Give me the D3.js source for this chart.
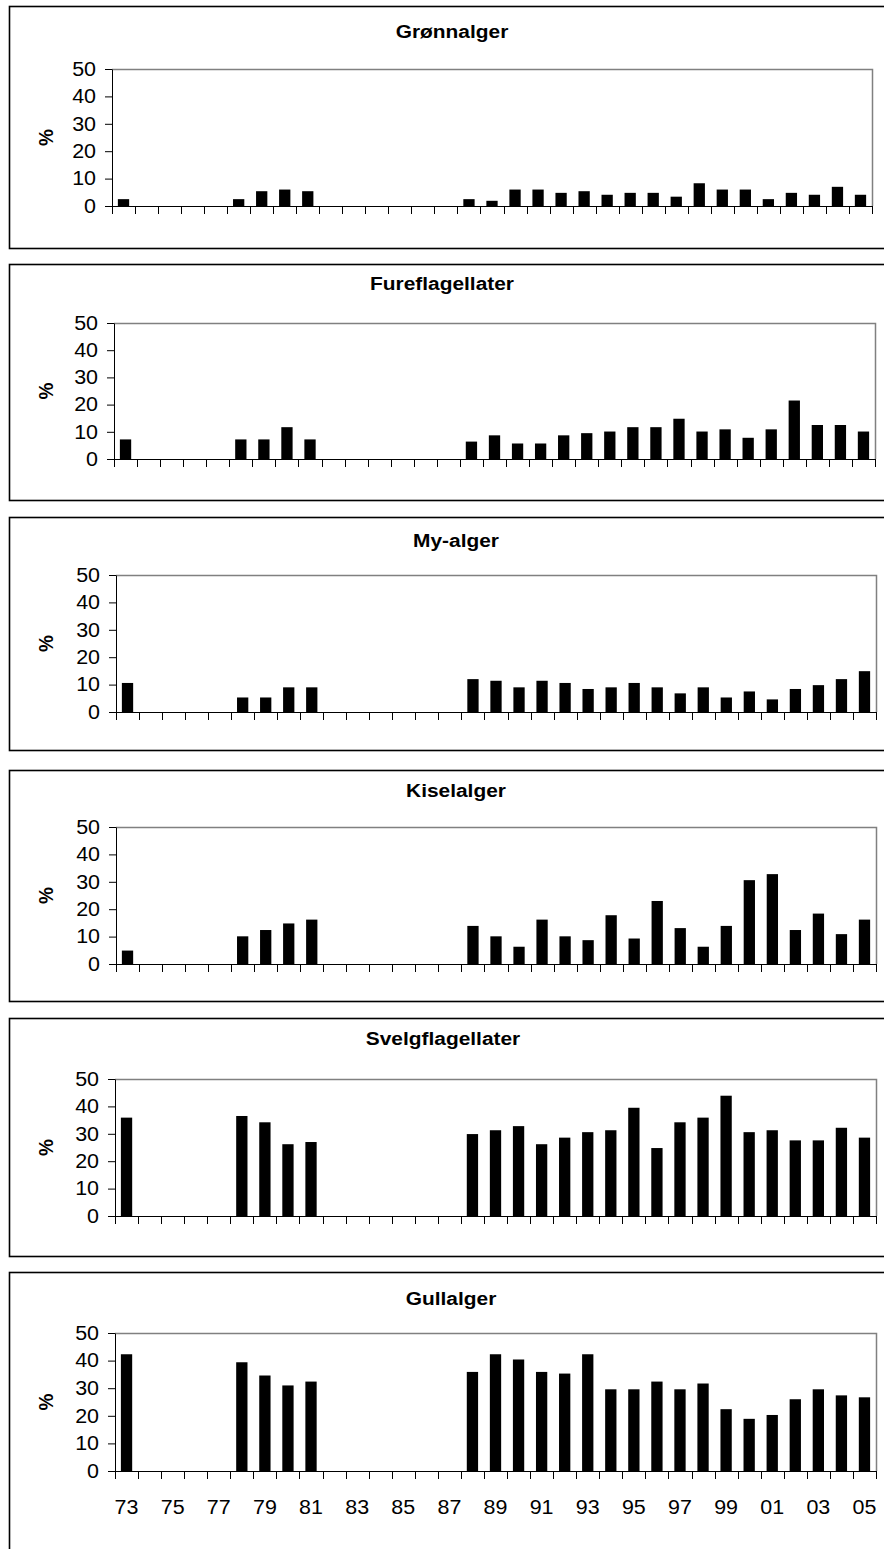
<!DOCTYPE html>
<html><head><meta charset="utf-8">
<script src="https://cdn.jsdelivr.net/npm/d3@7"></script>
<style>
html,body{margin:0;padding:0;background:#fff;}
svg{display:block;font-family:"Liberation Sans",Arial,sans-serif;}
</style></head>
<body>
<svg id="chart" width="884" height="1549"></svg>
<script>
const years = ["73","74","75","76","77","78","79","80","81","82","83","84","85","86","87","88","89","90","91","92","93","94","95","96","97","98","99","00","01","02","03","04","05"];
const xTickLabels = ["73","75","77","79","81","83","85","87","89","91","93","95","97","99","01","03","05"];
const yTicks = [0,10,20,30,40,50];
const titles = ["Grønnalger","Fureflagellater","My-alger","Kiselalger","Svelgflagellater","Gullalger"];
const N = null;
const gronnalger      = [2.5,N,N,N,N,2.5,5.4,6.0,5.4,N,N,N,N,N,N,2.5,1.9,6.0,6.0,4.8,5.4,4.1,4.8,4.8,3.4,8.3,6.0,6.0,2.5,4.8,4.1,7.0,4.1];
const fureflagellater = [7.2,N,N,N,N,7.2,7.2,11.7,7.2,N,N,N,N,N,N,6.4,8.7,5.7,5.7,8.7,9.5,10.1,11.7,11.7,14.8,10.1,10.9,7.8,10.9,21.5,12.5,12.5,10.1];
const myalger         = [10.6,N,N,N,N,5.3,5.3,9.0,9.0,N,N,N,N,N,N,12.0,11.4,9.0,11.4,10.6,8.4,9.0,10.6,9.0,6.8,9.0,5.3,7.5,4.6,8.4,9.8,12.0,14.9];
const kiselalger      = [4.9,N,N,N,N,10.1,12.4,14.8,16.2,N,N,N,N,N,N,13.9,10.1,6.3,16.2,10.1,8.7,17.8,9.3,23.0,13.1,6.3,13.9,30.6,32.8,12.4,18.4,10.9,16.2];
const svelgflagellater= [35.9,N,N,N,N,36.5,34.2,26.2,27.0,N,N,N,N,N,N,29.9,31.3,32.8,26.2,28.6,30.6,31.3,39.5,24.8,34.2,35.9,43.9,30.6,31.3,27.6,27.6,32.2,28.6];
const gullalger       = [42.3,N,N,N,N,39.4,34.6,31.0,32.4,N,N,N,N,N,N,35.9,42.3,40.4,35.9,35.3,42.3,29.6,29.6,32.4,29.6,31.7,22.4,18.9,20.3,26.0,29.6,27.4,26.7];
const seriesList = [gronnalger,fureflagellater,myalger,kiselalger,svelgflagellater,gullalger];

// layout per panel
const layout = [
  {ft:6,   fb:248,  tb:38,   tx:452, y50:69,   y0:206,  l:112, r:872},
  {ft:264, fb:500,  tb:290,  tx:442, y50:323,  y0:459,  l:114, r:875},
  {ft:517, fb:750,  tb:547,  tx:456, y50:575,  y0:712,  l:116, r:876},
  {ft:770, fb:1001, tb:797,  tx:456, y50:827,  y0:964,  l:116, r:876},
  {ft:1018,fb:1256, tb:1045, tx:443, y50:1079, y0:1216, l:115, r:876},
  {ft:1272,fb:1600, tb:1305, tx:451, y50:1333, y0:1471, l:115, r:876}
];
const SX = 1.1;       // horizontal stretch of the reference text
const tickFont = 19.5;

const svg = d3.select("#chart");

seriesList.forEach((vals, i) => {
  const L = layout[i];
  const g = svg.append("g");
  // frame
  g.append("rect").attr("x",9.5).attr("y",L.ft+0.5).attr("width",900).attr("height",L.fb-L.ft)
    .attr("fill","none").attr("stroke","#000").attr("stroke-width",1.6);
  // title
  g.append("text").attr("transform",`translate(${L.tx},${L.tb}) scale(${SX},1)`)
    .attr("text-anchor","middle").attr("font-weight","bold").attr("font-size",19).text(titles[i]);

  const x = d3.scaleBand().domain(years).range([L.l, L.r]).paddingInner(0).paddingOuter(0);
  const y = d3.scaleLinear().domain([0,50]).range([L.y0, L.y50]);

  // plot area border (top and right gray)
  g.append("path").attr("d",`M${L.l},${L.y50+0.5}H${L.r+0.5}V${L.y0}`)
    .attr("fill","none").attr("stroke","#808080").attr("stroke-width",1.5);

  // bars
  const bw = x.bandwidth()*0.49;
  g.selectAll("rect.bar").data(years.map((yr,k)=>({yr, v:vals[k]})).filter(d=>d.v!==null))
    .enter().append("rect").attr("class","bar")
    .attr("x", d => x(d.yr) + (x.bandwidth()-bw)/2)
    .attr("y", d => y(d.v))
    .attr("width", bw)
    .attr("height", d => y(0)-y(d.v))
    .attr("fill","#000");

  // y axis
  const ya = g.append("g").attr("transform",`translate(${L.l},0)`)
    .call(d3.axisLeft(y).tickValues(yTicks).tickSize(7).tickPadding(9).tickSizeOuter(0));
  ya.select(".domain").attr("stroke","#000").attr("stroke-width",1);
  ya.selectAll("text").attr("font-size",tickFont).attr("fill","#000")
    .attr("font-family","Liberation Sans, Arial, sans-serif")
    .attr("x", -16/SX).attr("transform",`scale(${SX},1)`);

  // x axis baseline and ticks at category boundaries
  g.append("line").attr("x1",L.l).attr("x2",L.r).attr("y1",L.y0+0.5).attr("y2",L.y0+0.5)
    .attr("stroke","#000").attr("stroke-width",1);
  const bounds = years.map(yr => x(yr)).concat([x(years[years.length-1]) + x.bandwidth()]);
  g.selectAll("line.xt").data(bounds).enter().append("line").attr("class","xt")
    .attr("x1",d=>Math.round(d)+0.5).attr("x2",d=>Math.round(d)+0.5)
    .attr("y1",L.y0).attr("y2",L.y0+8).attr("stroke","#000").attr("stroke-width",1);

  // % label
  g.append("text").attr("transform",`translate(45,${(L.y0+L.y50)/2}) scale(${SX},1) rotate(-90)`)
    .attr("text-anchor","middle").attr("dy","0.36em").attr("font-weight","bold").attr("font-size",19).text("%");

  if (i === seriesList.length-1) {
    g.selectAll("text.xl").data(xTickLabels).enter().append("text").attr("class","xl")
      .attr("transform", d => `translate(${x(d) + x.bandwidth()/2},${L.y0 + 43}) scale(${SX},1)`)
      .attr("text-anchor","middle").attr("font-size",tickFont).text(d=>d);
  }
});
</script>
</body></html>
